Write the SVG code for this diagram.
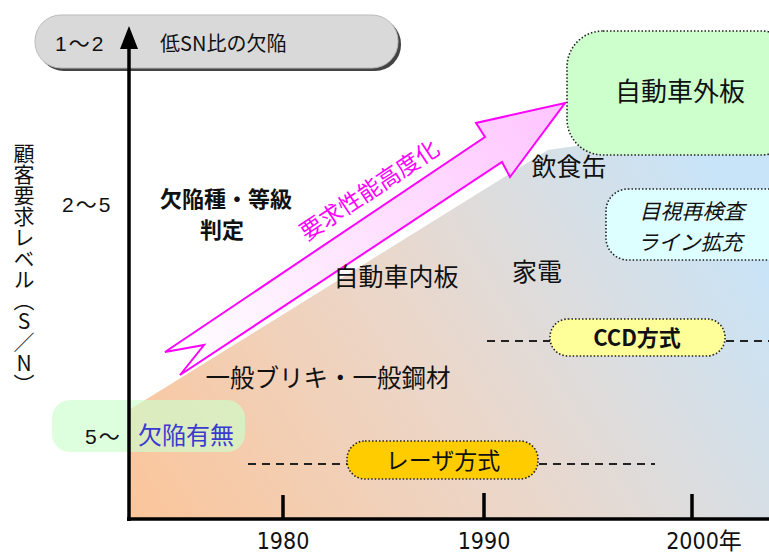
<svg xmlns="http://www.w3.org/2000/svg" width="769" height="555" viewBox="0 0 769 555">
<defs>
<linearGradient id="bg" x1="129" y1="519" x2="700" y2="150" gradientUnits="userSpaceOnUse">
<stop offset="0" stop-color="#fbc59a"/>
<stop offset="0.5" stop-color="#ebd7ca"/>
<stop offset="1" stop-color="#c8e4f8"/>
</linearGradient>
<linearGradient id="pk" x1="170" y1="360" x2="560" y2="110" gradientUnits="userSpaceOnUse">
<stop offset="0" stop-color="#ffffff"/>
<stop offset="1" stop-color="#ffc6ff"/>
</linearGradient>
</defs>
<style>
text{font-family:"Liberation Sans","Noto Sans CJK JP",sans-serif;fill:#111}
.jp{font-family:"Noto Sans CJK JP","Noto Sans CJK SC",sans-serif}
.yr{font-family:"Liberation Sans Narrow","DejaVu Sans Condensed","Liberation Sans","Noto Sans CJK JP",sans-serif;font-size:23px;font-stretch:condensed}
.dot{stroke:#222;stroke-width:1.6;stroke-dasharray:1.5 2}
.dash{stroke:#222;stroke-width:2;stroke-dasharray:8 6;fill:none}
.ax{stroke:#000;stroke-width:3.5;fill:none}
.num{font-size:21px;letter-spacing:2px}
</style>
<polygon id="region" points="129,410 548,150 769,118 769,519 129,519" fill="url(#bg)"/>
<g id="gray-box">
<rect x="38" y="18" width="363" height="53" rx="26" fill="#444"/>
<rect x="35" y="15" width="363" height="53" rx="26" fill="#d9d9d9" stroke="#bbb" stroke-width="1"/>
<text x="55" y="51" class="num">1～2</text>
<text x="160" y="51" font-size="20" class="jp">低SN比の欠陥</text>
</g>
<g id="y-label">
<text x="24" y="143" font-size="21" class="jp" style="writing-mode:vertical-rl;text-orientation:upright">顧客要求レベル（S／N）</text>
<text x="62" y="212" class="num">2～5</text>
</g>
<g id="defect-box">
<rect x="52" y="400" width="193" height="52" rx="18" fill="#ccffcc" fill-opacity="0.65"/>
<text x="85" y="444" class="num">5～</text>
<text x="138" y="444" font-size="24" class="jp" style="fill:#3a3ad0">欠陥有無</text>
</g>
<g id="connectors">
<line class="ax" x1="129" y1="45" x2="129" y2="521"/>
<polygon points="129,26 120,49 138,49" fill="#000"/>
<line class="ax" x1="127" y1="519" x2="769" y2="519"/>
<line class="ax" x1="283" y1="495" x2="283" y2="519"/>
<line class="ax" x1="484" y1="493" x2="484" y2="519"/>
<line class="ax" x1="692" y1="494" x2="692" y2="519"/>
<line class="dash" x1="248" y1="464" x2="347" y2="464"/>
<line class="dash" x1="539" y1="464" x2="655" y2="464"/>
<line class="dash" x1="487" y1="341" x2="550" y2="341"/>
<line class="dash" x1="726" y1="341" x2="769" y2="341"/>
</g>
<g id="arrow">
<polygon points="165,352 204,345 180,375 502,162 510,177 565,103 476,123 485,137" fill="url(#pk)" stroke="#ff00ff" stroke-width="2" stroke-linejoin="miter"/>
<text x="0" y="0" font-size="23" class="jp" style="fill:#ff00ff" transform="translate(374,197) rotate(-33.5)" text-anchor="middle">要求性能高度化</text>
</g>
<g id="labels">
<text x="226" y="207" font-size="22" font-weight="bold" class="jp" text-anchor="middle">欠陥種・等級</text>
<text x="222" y="238" font-size="22" font-weight="bold" class="jp" text-anchor="middle">判定</text>
<text x="396" y="286" font-size="25" class="jp" text-anchor="middle">自動車内板</text>
<text x="328" y="387" font-size="24.5" class="jp" text-anchor="middle">一般ブリキ・一般鋼材</text>
<text x="537" y="281" font-size="25" class="jp" text-anchor="middle">家電</text>
<text x="569" y="176" font-size="25" class="jp" text-anchor="middle">飲食缶</text>
</g>
<g id="outer-panel">
<rect x="567" y="31" width="230" height="124" rx="36" fill="#ccffcc" class="dot"/>
<text x="680" y="101" font-size="26" class="jp" text-anchor="middle">自動車外板</text>
</g>
<g id="recheck">
<rect x="606" y="189" width="190" height="71" rx="22" fill="#ddffff" class="dot"/>
<text x="692" y="219" font-size="21" class="jp" font-style="italic" text-anchor="middle">目視再検査</text>
<text x="690" y="250" font-size="21" class="jp" font-style="italic" text-anchor="middle">ライン拡充</text>
</g>
<g id="ccd">
<rect x="550" y="319" width="175" height="37" rx="18" fill="#ffff99" class="dot"/>
<text x="637" y="346" font-size="22" font-weight="bold" class="jp" text-anchor="middle">CCD方式</text>
</g>
<g id="laser">
<rect x="347" y="441" width="191" height="38" rx="18" fill="#ffcc00" class="dot"/>
<text x="443" y="469" font-size="23" class="jp" text-anchor="middle">レーザ方式</text>
</g>
<g id="years">
<text class="yr" x="283" y="549" text-anchor="middle">1980</text>
<text class="yr" x="484" y="549" text-anchor="middle">1990</text>
<text class="yr" x="704" y="549" text-anchor="middle">2000年</text>
</g>
</svg>
